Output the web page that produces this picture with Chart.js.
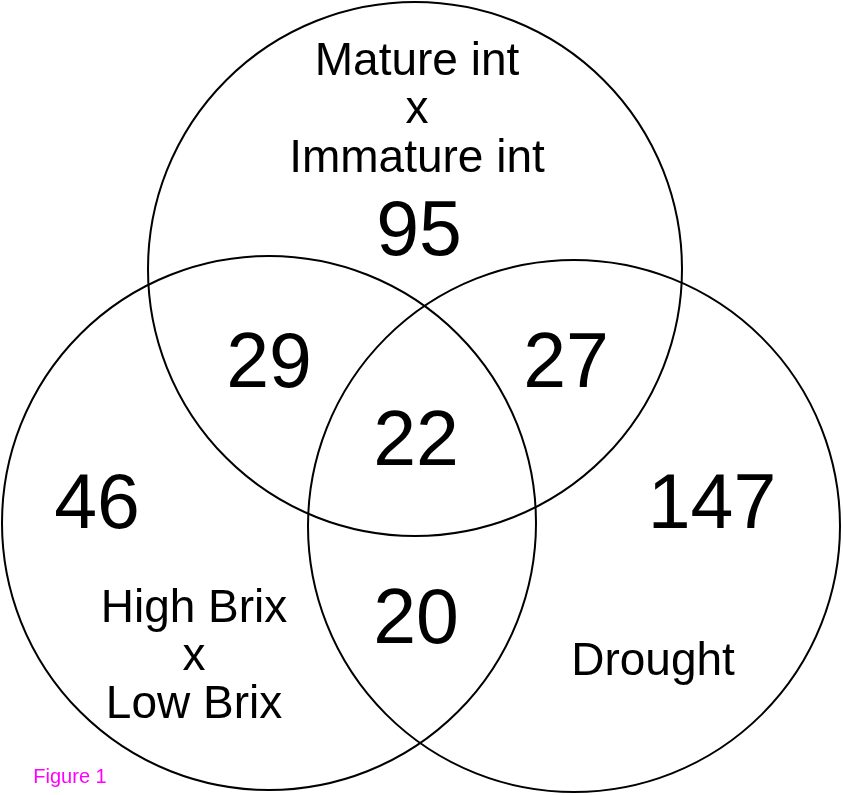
<!DOCTYPE html>
<html>
<head>
<meta charset="utf-8">
<script src="https://cdn.jsdelivr.net/npm/chart.js@4.4.1/dist/chart.umd.min.js"></script>
<style>
  html, body { margin: 0; padding: 0; background: #fff; }
  #venn { display: block; }
</style>
</head>
<body>
<canvas id="venn" width="843" height="795"></canvas>
<script>
// Sets (circles) - centre and radius in plot units
const setNames = ["Mature int x Immature int", "High Brix x Low Brix", "Drought"];
const setX = [415, 269, 574];
const setY = [269, 523, 526];
const setR = [267, 267, 266];

// Region counts (text baseline in plot units)
const regionNames = ["Mature only", "HighLow only", "Drought only", "Mature+HighLow", "Mature+Drought", "HighLow+Drought", "All three"];
const regionCounts = [95, 46, 147, 29, 27, 20, 22];
const regionX = [419, 97, 712, 269, 566, 416, 416];
const regionY = [255, 528, 528, 387, 387, 643, 465];

// Set labels (one line per entry)
const labelLines = [
  ["Mature int", "x", "Immature int"],
  ["High Brix", "x", "Low Brix"],
  ["Drought"]
];
const labelX = [417, 194, 653];
const labelY = [
  [75, 123, 172],
  [622, 670, 718],
  [675]
];

const FONT = '"Liberation Sans", Arial, Helvetica, sans-serif';

const vennText = {
  id: "vennText",
  afterDatasetsDraw(chart) {
    const { ctx, scales: { x, y } } = chart;
    ctx.save();
    ctx.fillStyle = "#000";
    ctx.textAlign = "center";
    ctx.textBaseline = "alphabetic";

    ctx.font = "77px " + FONT;
    regionCounts.forEach((n, i) => {
      ctx.fillText(String(n), x.getPixelForValue(regionX[i]), y.getPixelForValue(regionY[i]));
    });

    ctx.font = "46px " + FONT;
    labelLines.forEach((lines, i) => {
      lines.forEach((t, j) => {
        ctx.fillText(t, x.getPixelForValue(labelX[i]), y.getPixelForValue(labelY[i][j]));
      });
    });

    ctx.fillStyle = "#ff00ff";
    ctx.font = "20px " + FONT;
    ctx.fillText("Figure 1", x.getPixelForValue(70), y.getPixelForValue(783));
    ctx.restore();
  }
};

new Chart(document.getElementById("venn"), {
  type: "scatter",
  data: {
    labels: setNames,
    datasets: [
      {
        label: "Sets",
        data: setX.map((v, i) => ({ x: v, y: setY[i] })),
        backgroundColor: "rgba(0,0,0,0)",
        borderColor: "#000",
        borderWidth: 2,
        clip: false,
        pointRadius: (c) => {
          const s = c.chart.scales.x;
          if (c.dataIndex === undefined || !s) return 0;
          return s.getPixelForValue(setR[c.dataIndex]) - s.getPixelForValue(0);
        },
      },
    ],
  },
  options: {
    responsive: false,
    animation: false,
    events: [],
    layout: { padding: 0 },
    plugins: {
      legend: { display: false },
      tooltip: { enabled: false },
    },
    scales: {
      x: { type: "linear", min: 0, max: 843, display: false },
      y: { type: "linear", min: 0, max: 795, reverse: true, display: false },
    },
  },
  plugins: [vennText],
});
</script>
</body>
</html>
